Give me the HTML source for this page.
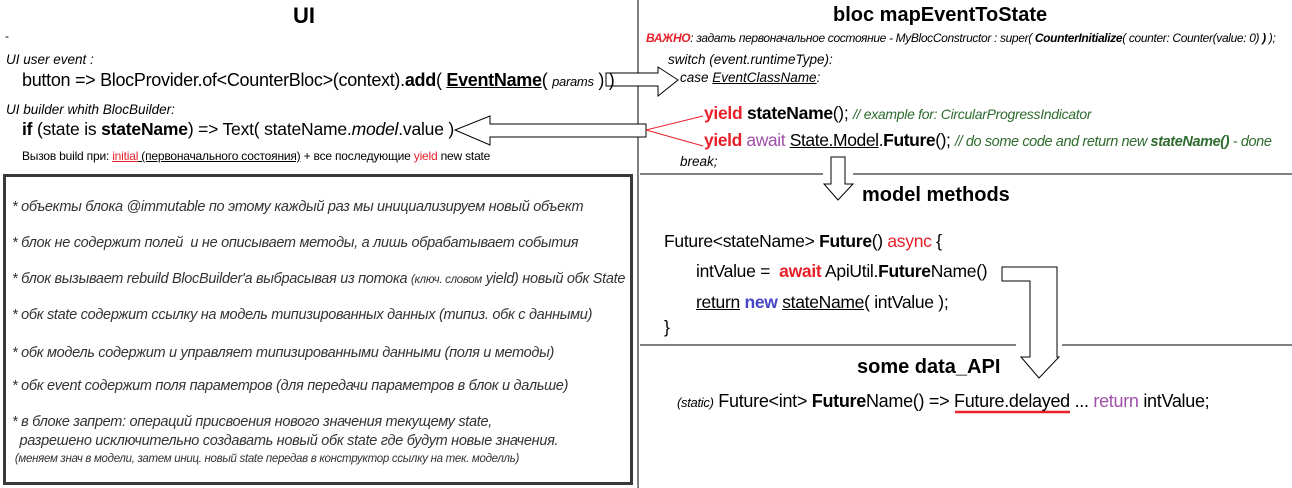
<!DOCTYPE html>
<html><head><meta charset="utf-8">
<style>
body{margin:0;width:1292px;height:488px;background:#fff;position:relative;overflow:hidden;font-family:"Liberation Sans",sans-serif;color:#000}
.t{position:absolute;white-space:nowrap;line-height:1}
.i{font-style:italic}
.b{font-weight:bold}
.u{text-decoration:underline}
.box{position:absolute;left:3px;top:174px;width:624px;height:305px;border:3px solid #3a3a3a}
.bx{position:absolute;left:12px;font-style:italic;font-size:14.5px;color:#333;white-space:nowrap;letter-spacing:-0.3px}
.red{color:#e8202a}.grn{color:#2e6b2e}.pur{color:#a050a8}.blu{color:#4646c8}
</style></head><body>
<svg width="1292" height="488" style="position:absolute;left:0;top:0">
<line x1="638" y1="0" x2="638" y2="488" stroke="#000" stroke-width="1"/>
<line x1="640" y1="174" x2="823" y2="174" stroke="#000"/>
<line x1="853" y1="174" x2="1292" y2="174" stroke="#000"/>
<line x1="640" y1="345" x2="1016" y2="345" stroke="#000"/>
<line x1="1062" y1="345" x2="1292" y2="345" stroke="#000"/>
<polygon points="606,73 658,73 658,67 678,80 658,96 658,86 606,86" fill="#fff" stroke="#000"/>
<polygon points="646,124 490,124 490,116 455,130 490,145 490,137 646,137" fill="#fff" stroke="#000"/>
<line x1="646" y1="130" x2="703" y2="116" stroke="#e8202a"/>
<line x1="646" y1="130" x2="703" y2="146" stroke="#e8202a"/>
<polygon points="831,157 845,157 845,184 853,184 838,200 824,184 831,184" fill="#fff" stroke="#000"/>
<polygon points="1002,267 1057,267 1057,357 1059,357 1039,378 1021,357 1030,357 1030,281 1002,281" fill="#fff" stroke="#000"/>
<line x1="955" y1="412" x2="1070" y2="412" stroke="#e8202a" stroke-width="2.5"/>
</svg>

<div class="t b" style="left:293px;top:5px;font-size:22px">UI</div>
<div class="t" style="left:5px;top:30px;font-size:12px">-</div>
<div class="t i" style="left:6px;top:53px;font-size:13.5px">UI user event :</div>
<div class="t" style="left:22px;top:71px;font-size:18px;letter-spacing:-0.3px">button =&gt; BlocProvider.of&lt;CounterBloc&gt;(context).<b>add</b>( <b class="u">EventName</b>( <i style="font-size:13px">params</i> ) )</div>
<div class="t i" style="left:6px;top:103px;font-size:13.5px">UI builder whith BlocBuilder:</div>
<div class="t" style="left:22px;top:121px;font-size:17.5px;letter-spacing:-0.2px"><b>if</b> (state is <b>stateName</b>) =&gt; Text( stateName.<i>model</i>.value )</div>
<div class="t" style="left:22px;top:150px;font-size:12px;letter-spacing:-0.2px">Вызов build при: <span class="red u">initial</span><span class="u"> (первоначального состояния)</span> + все последующие <span class="red">yield</span> new state</div>

<div class="box"></div>
<div class="bx" style="top:199px">* объекты блока @immutable по этому каждый раз мы инициализируем новый объект</div>
<div class="bx" style="top:235px">* блок не содержит полей &nbsp;и не описывает методы, а лишь обрабатывает события</div>
<div class="bx" style="top:271px">* блок вызывает rebuild BlocBuilder'а выбрасывая из потока <span style="font-size:11.5px">(ключ. словом</span> yield) новый обк State</div>
<div class="bx" style="top:307px">* обк state содержит ссылку на модель типизированных данных (типиз. обк с данными)</div>
<div class="bx" style="top:345px">* обк модель содержит и управляет типизированными данными (поля и методы)</div>
<div class="bx" style="top:378px">* обк event содержит поля параметров (для передачи параметров в блок и дальше)</div>
<div class="bx" style="top:414px">* в блоке запрет: операций присвоения нового значения текущему state,</div>
<div class="bx" style="top:433px">&nbsp;&nbsp;разрешено исключительно создавать новый обк state где будут новые значения.</div>
<div class="bx" style="top:453px;font-size:11.5px">&nbsp;(меняем знач в модели, затем иниц. новый state передав в конструктор ссылку на тек. моделль)</div>

<div class="t b" style="left:833px;top:5px;font-size:20px">bloc mapEventToState</div>
<div class="t i" style="left:646px;top:32px;font-size:12px;letter-spacing:-0.35px"><b class="red">ВАЖНО</b>: задать первоначальное состояние - MyBlocConstructor : super( <b>CounterInitialize</b>( counter: Counter(value: 0) <b>)</b> );</div>
<div class="t i" style="left:668px;top:53px;font-size:13.5px">switch (event.runtimeType):</div>
<div class="t i" style="left:680px;top:71px;font-size:13.5px">case <span class="u">EventClassName</span>:</div>
<div class="t" style="left:704px;top:105px;font-size:17.5px;letter-spacing:-0.3px"><b class="red">yield</b> <b>stateName</b>(); <i class="grn" style="font-size:14px">// example for: CircularProgressIndicator</i></div>
<div class="t" style="left:704px;top:132px;font-size:17.5px;letter-spacing:-0.4px"><b class="red">yield</b> <span class="pur">await</span> <span class="u">State.Model</span>.<b>Future</b>(); <i class="grn" style="font-size:14.5px">// do some code and return new <b>stateName()</b> - done</i></div>
<div class="t i" style="left:680px;top:155px;font-size:13.5px">break;</div>

<div class="t b" style="left:862px;top:185px;font-size:20px">model methods</div>
<div class="t" style="left:664px;top:233px;font-size:17.5px;letter-spacing:-0.3px">Future&lt;stateName&gt; <b>Future</b>() <span class="red">async</span> {</div>
<div class="t" style="left:696px;top:263px;font-size:17.5px;letter-spacing:-0.3px">intValue = &nbsp;<b class="red">await</b> ApiUtil.<b>Future</b>Name()</div>
<div class="t" style="left:696px;top:294px;font-size:17.5px;letter-spacing:-0.3px"><span class="u">return</span> <b class="blu">new</b> <span class="u">stateName</span>( intValue );</div>
<div class="t" style="left:664px;top:319px;font-size:17.5px">}</div>

<div class="t b" style="left:857px;top:357px;font-size:20px">some data_API</div>
<div class="t" style="left:677px;top:392px;font-size:18px;letter-spacing:-0.3px"><i style="font-size:13px">(static)</i> Future&lt;int&gt; <b>Future</b>Name() =&gt; Future.delayed ... <span class="pur">return</span> intValue;</div>
</body></html>
